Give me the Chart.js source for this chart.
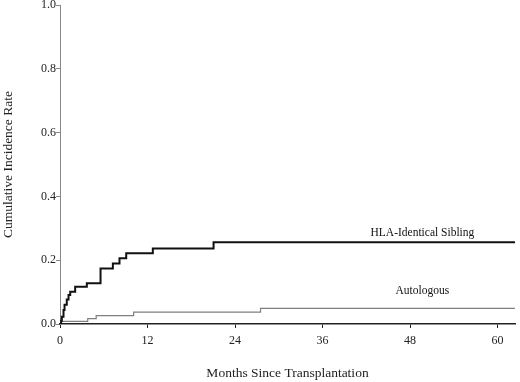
<!DOCTYPE html>
<html>
<head>
<meta charset="utf-8">
<script src="https://cdn.jsdelivr.net/npm/chart.js@4/dist/chart.umd.min.js"></script>
<style>
  html, body { margin: 0; padding: 0; background: #fff; }
  #wrap { width: 520px; height: 382px; }
</style>
</head>
<body>
<div id="wrap"><canvas id="cirChart" width="520" height="382"></canvas></div>
<script>
// step points (month, cumulative incidence)
const hlaMonths = [0, 0.15, 0.25, 0.48, 0.62, 0.93, 1.17, 1.4, 2.08, 3.68, 5.56, 7.25, 8.16, 9.08, 12.73, 21.06, 62.4];
const hlaRate   = [0, 0.010, 0.023, 0.044, 0.060, 0.077, 0.091, 0.101, 0.117, 0.128, 0.174, 0.190, 0.206, 0.222, 0.237, 0.256, 0.255];
const autoMonths = [0, 0.15, 3.8, 4.96, 10.1, 27.5, 62.4];
const autoRate   = [0, 0.008, 0.017, 0.026, 0.037, 0.049, 0.049];

const xTicks = [0, 12, 24, 36, 48, 60];
const yTicks = [0, 0.2, 0.4, 0.6, 0.8, 1.0];

const seriesLabels = [
  { text: 'HLA-Identical Sibling', month: 49.7, rate: 0.285 },
  { text: 'Autologous', month: 49.7, rate: 0.103 }
];

const serif = 'Liberation Serif, Times New Roman, serif';

function toPoints(xs, ys) {
  return xs.map((x, i) => ({ x: x, y: ys[i] }));
}

const curveLabels = {
  id: 'curveLabels',
  afterDatasetsDraw(chart) {
    const ctx = chart.ctx;
    const xs = chart.scales.x, ys = chart.scales.y;
    ctx.save();
    ctx.font = '11.5px ' + serif;
    ctx.fillStyle = '#111';
    ctx.textAlign = 'center';
    ctx.textBaseline = 'middle';
    seriesLabels.forEach(l => {
      ctx.fillText(l.text, xs.getPixelForValue(l.month), ys.getPixelForValue(l.rate));
    });
    ctx.restore();
  }
};

let cirChart;

function createChart() {
  const ctx = document.getElementById('cirChart').getContext('2d');
  cirChart = new Chart(ctx, {
    type: 'line',
    data: {
      datasets: [{
        label: 'HLA-Identical Sibling',
        data: toPoints(hlaMonths, hlaRate),
        borderColor: '#111',
        borderWidth: 2,
        stepped: 'before',
        pointRadius: 0,
        fill: false
      }, {
        label: 'Autologous',
        data: toPoints(autoMonths, autoRate),
        borderColor: '#808080',
        borderWidth: 1.2,
        stepped: 'before',
        pointRadius: 0,
        fill: false
      }]
    },
    options: {
      responsive: false,
      animation: false,
      layout: { padding: { top: 5, right: 5, left: 0, bottom: 0 } },
      plugins: {
        legend: { display: false },
        tooltip: { enabled: false }
      },
      scales: {
        x: {
          type: 'linear',
          min: 0,
          max: 62.4,
          afterBuildTicks: s => { s.ticks = xTicks.map(v => ({ value: v })); },
          afterFit: s => { s.height = 58; s.paddingLeft = 0; s.paddingRight = 0; },
          border: { color: '#222', width: 1.5 },
          grid: { drawOnChartArea: false, drawTicks: true, tickLength: 4, color: '#222' },
          ticks: {
            padding: 6,
            color: '#222',
            maxRotation: 0,
            font: { family: serif, size: 12 }
          },
          title: {
            display: true,
            text: 'Months Since Transplantation',
            color: '#222',
            padding: { top: 0, bottom: 0 },
            font: { family: serif, size: 13.5 }
          }
        },
        y: {
          min: 0,
          max: 1,
          afterBuildTicks: s => { s.ticks = yTicks.map(v => ({ value: v })); },
          afterFit: s => { s.width = 60; s.paddingTop = 0; s.paddingBottom = 0; },
          border: { color: '#888', width: 1 },
          grid: { drawOnChartArea: false, drawTicks: true, tickLength: 4, color: '#888' },
          ticks: {
            padding: 0,
            color: '#222',
            font: { family: serif, size: 12 },
            callback: v => v.toFixed(1)
          },
          title: {
            display: true,
            text: 'Cumulative Incidence Rate',
            color: '#222',
            padding: { top: 0, bottom: 0 },
            font: { family: serif, size: 13.5 }
          }
        }
      }
    },
    plugins: [curveLabels]
  });
}

document.addEventListener('DOMContentLoaded', createChart);
</script>
</body>
</html>
